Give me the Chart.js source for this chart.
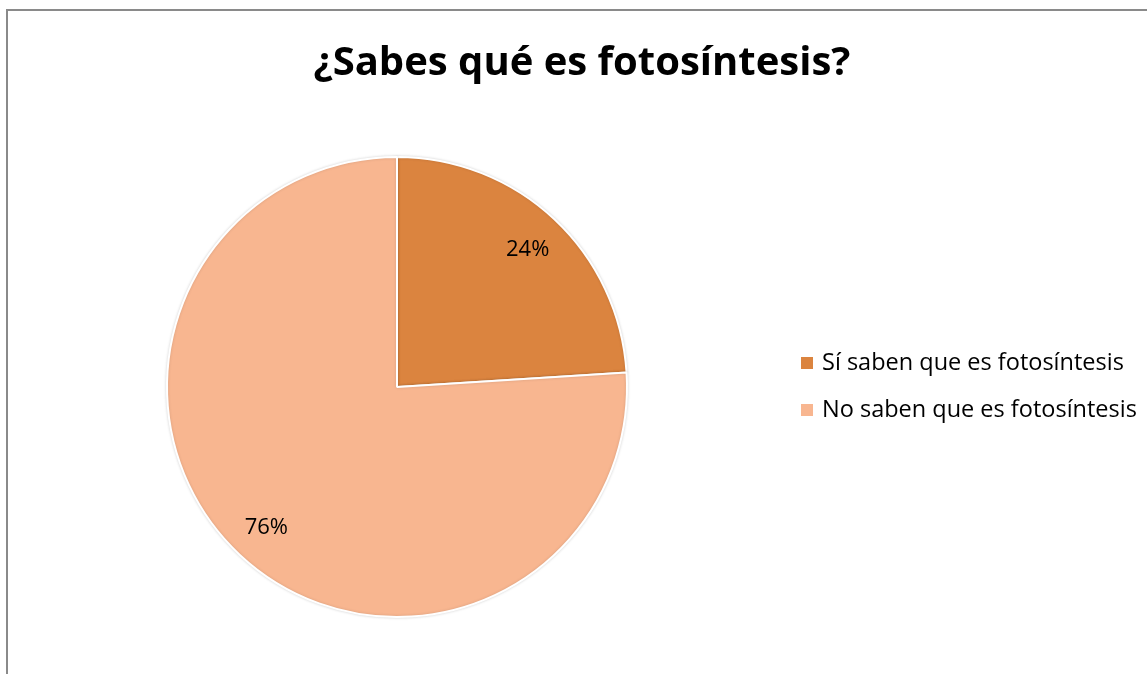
<!DOCTYPE html>
<html>
<head>
<meta charset="utf-8">
<script src="https://cdn.jsdelivr.net/npm/chart.js@4/dist/chart.umd.min.js"></script>
<style>
  html, body { margin: 0; padding: 0; background: #fff; }
  #wrap { width: 1147px; height: 674px; }
</style>
</head>
<body>
<div id="wrap"><canvas id="chart-area1" width="1147" height="674"></canvas></div>
<script>
var chartTitle = '¿Sabes qué es fotosíntesis?';
var categories = ['Sí saben que es fotosíntesis', 'No saben que es fotosíntesis'];
var percentValues = [24, 76];
var sliceColors = ['#DB843F', '#F8B690'];

// frame round the chart, title, slice labels and legend
var decorPlugin = {
  id: 'decor',
  beforeDraw: function(chart) {
    var ctx = chart.ctx;
    ctx.save();
    ctx.fillStyle = '#fff';
    ctx.fillRect(0, 0, chart.width, chart.height);
    ctx.strokeStyle = '#8a8a8a';
    ctx.lineWidth = 2;
    ctx.strokeRect(7, 10, chart.width + 20, chart.height + 20);
    ctx.restore();
  },
  beforeDatasetsDraw: function(chart) {
    chart.ctx.save();
    chart.ctx.shadowColor = 'rgba(0,0,0,0.15)';
    chart.ctx.shadowBlur = 3;
  },
  afterDatasetsDraw: function(chart) {
    var ctx = chart.ctx;
    ctx.restore();
    ctx.save();
    // title
    ctx.fillStyle = '#000';
    ctx.font = 'bold 40px "Open Sans"';
    ctx.textAlign = 'center';
    ctx.textBaseline = 'middle';
    ctx.fillText(chartTitle, 582, 64);

    // percent labels inside the slices
    var meta = chart.getDatasetMeta(0);
    ctx.font = '22px "Open Sans"';
    meta.data.forEach(function(arc, i) {
      var p = arc.getProps(['x', 'y', 'startAngle', 'endAngle', 'outerRadius'], true);
      var mid = (p.startAngle + p.endAngle) / 2;
      var r = p.outerRadius * 0.83;
      ctx.fillText(percentValues[i] + '%', p.x + Math.cos(mid) * r, p.y + Math.sin(mid) * r + 2);
    });

    // legend
    ctx.textAlign = 'left';
    ctx.font = '23.5px "Open Sans"';
    categories.forEach(function(label, i) {
      var y = 363 + i * 47;
      ctx.fillStyle = sliceColors[i];
      ctx.fillRect(801, y - 6, 12, 12);
      ctx.fillStyle = '#000';
      ctx.fillText(label, 822, y);
    });
    ctx.restore();
  }
};

var config = {
  type: 'pie',
  data: {
    labels: categories,
    datasets: [{
      data: percentValues,
      backgroundColor: sliceColors,
      borderColor: '#ffffff',
      borderWidth: 2
    }]
  },
  options: {
    responsive: false,
    animation: false,
    layout: {
      padding: { left: 166, right: 519, top: 156, bottom: 56 }
    },
    plugins: {
      legend: { display: false },
      title: { display: false },
      tooltip: { enabled: false }
    }
  },
  plugins: [decorPlugin]
};

var ctx = document.getElementById('chart-area1');
window.myPie = new Chart(ctx, config);
</script>
</body>
</html>
